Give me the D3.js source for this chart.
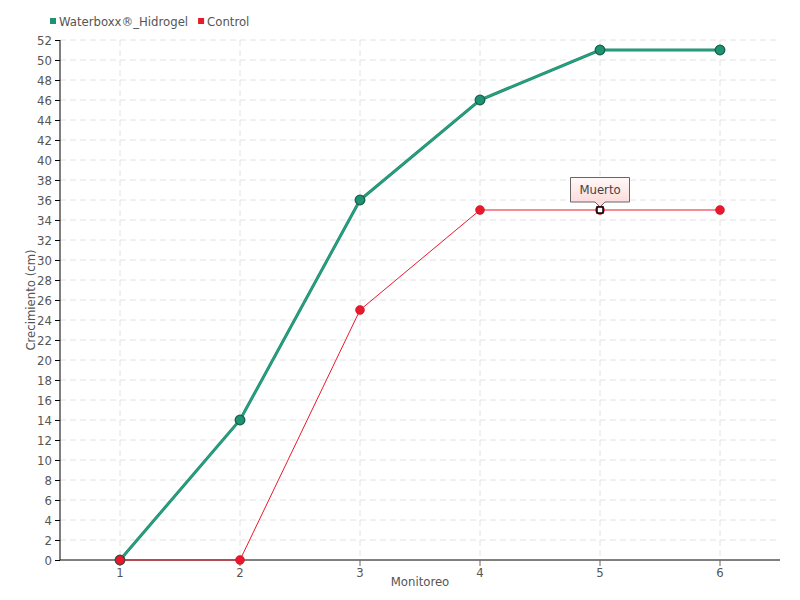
<!DOCTYPE html>
<html><head><meta charset="utf-8">
<script src="https://cdn.jsdelivr.net/npm/d3@7"></script>
<style>body{margin:0;background:#fff;} text{font-family:"DejaVu Sans Condensed","Open Sans",sans-serif;}</style>
</head><body><svg id="c" width="800" height="600"></svg>
<script>
const categories = ["1","2","3","4","5","6"];
const waterboxx = [0,14,36,46,51,51];
const control = [0,0,25,35,35,35];
const yTicks = d3.range(0,53,2);
const seriesNames = ["Waterboxx®_Hidrogel","Control"];
const annotation = {label:"Muerto", index:4};

const svg = d3.select("#c");
const m = {l:60,r:780,t:40,b:560};
const x = d3.scaleBand().domain(categories).range([m.l,m.r]);
const cx = d => x(d)+x.bandwidth()/2;
const y = d3.scaleLinear().domain([0,52]).range([m.b,m.t]);
const fs = "13px";

// grid
svg.append("g").selectAll("line").data(yTicks.filter(d=>d>0)).join("line")
 .attr("x1",m.l).attr("x2",m.r).attr("y1",d=>y(d)).attr("y2",d=>y(d))
 .attr("stroke","#e2e2e2").attr("stroke-dasharray","6,4");
svg.append("g").selectAll("line").data(categories).join("line")
 .attr("x1",d=>cx(d)).attr("x2",d=>cx(d)).attr("y1",m.t).attr("y2",m.b)
 .attr("stroke","#e2e2e2").attr("stroke-dasharray","6,4");

// axes
const ya = svg.append("g").attr("transform",`translate(${m.l},0)`)
 .call(d3.axisLeft(y).tickValues(yTicks).tickSize(5).tickPadding(3));
ya.select(".domain").attr("stroke","#000").attr("d",`M0,${m.t}V${m.b}`);
ya.selectAll("text").attr("fill","#555").style("font-size",fs);
const xa = svg.append("g").attr("transform",`translate(0,${m.b})`)
 .call(d3.axisBottom(x).tickSize(6).tickPadding(2));
xa.select(".domain").attr("stroke","#000").attr("d",`M${m.l},0H${m.r}`);
xa.selectAll(".tick line").attr("stroke","#666");
xa.selectAll("text").attr("fill","#555").style("font-size",fs);

svg.append("text").attr("x",420).attr("y",586).attr("text-anchor","middle")
 .attr("fill","#555").style("font-size",fs).text("Monitoreo");
svg.append("text").attr("transform","translate(35,300) rotate(-90)").attr("text-anchor","middle")
 .attr("fill","#555").style("font-size",fs).text("Crecimiento (cm)");

const line = d3.line().x((d,i)=>cx(categories[i])).y(d=>y(d));
// control
svg.append("path").datum(control).attr("d",line).attr("fill","none").attr("stroke","#e8192c").attr("stroke-width",1);
svg.append("g").selectAll("circle").data(control).join("circle")
 .attr("cx",(d,i)=>cx(categories[i])).attr("cy",d=>y(d)).attr("r",4.5)
 .attr("fill","#e8192c").attr("stroke","#c01020").attr("stroke-width",0.5);
// waterboxx
svg.append("path").datum(waterboxx).attr("d",line).attr("fill","none").attr("stroke","#2a8a6e").attr("stroke-width",3);
svg.append("path").datum(waterboxx).attr("d",line).attr("fill","none").attr("stroke","#22a282").attr("stroke-width",1.6);
svg.append("g").selectAll("circle").data(waterboxx).join("circle")
 .attr("cx",(d,i)=>cx(categories[i])).attr("cy",d=>y(d)).attr("r",4.8)
 .attr("fill","#1d9374").attr("stroke","#1b5e48").attr("stroke-width",1.3);
// re-draw first control point on top (red over green at 0)
svg.append("circle").attr("cx",cx(categories[0])).attr("cy",y(control[0])).attr("r",4.5)
 .attr("fill","#e8192c").attr("stroke","#7a3030").attr("stroke-width",1);

// annotation
const ax = cx(categories[annotation.index]), ay = y(control[annotation.index]);
const defs = svg.append("defs");
const g = defs.append("linearGradient").attr("id","pk").attr("x1",0).attr("x2",0).attr("y1",0).attr("y2",1);
g.append("stop").attr("offset","0").attr("stop-color","#fff8f8");
g.append("stop").attr("offset","1").attr("stop-color","#fdd6d6");
const bw=60,bh=25,bt=ay-33;
svg.append("path").attr("d",`M${ax-bw/2+0.5},${bt+0.5}H${ax+bw/2-0.5}V${bt+bh}H${ax+5}L${ax},${ay-3}L${ax-5},${bt+bh}H${ax-bw/2+0.5}Z`)
 .attr("fill","url(#pk)").attr("stroke","#666").attr("stroke-width",1);
svg.append("text").attr("x",ax).attr("y",bt+17).attr("text-anchor","middle").attr("fill","#444")
 .style("font-size",fs).text(annotation.label);
svg.append("rect").attr("x",ax-3).attr("y",ay-3).attr("width",6).attr("height",6)
 .attr("fill","#fff").attr("stroke","#000").attr("stroke-width",1.5);

// legend
const colors=["#1d9374","#e8192c"];
let lxp = 50;
seriesNames.forEach((n,i)=>{
 svg.append("rect").attr("x",lxp).attr("y",18).attr("width",6).attr("height",6).attr("fill",colors[i]);
 const t = svg.append("text").attr("x",lxp+9).attr("y",26).attr("fill","#555").style("font-size",fs).text(n);
 lxp += 9 + t.node().getComputedTextLength() + 10;
});
</script></body></html>
